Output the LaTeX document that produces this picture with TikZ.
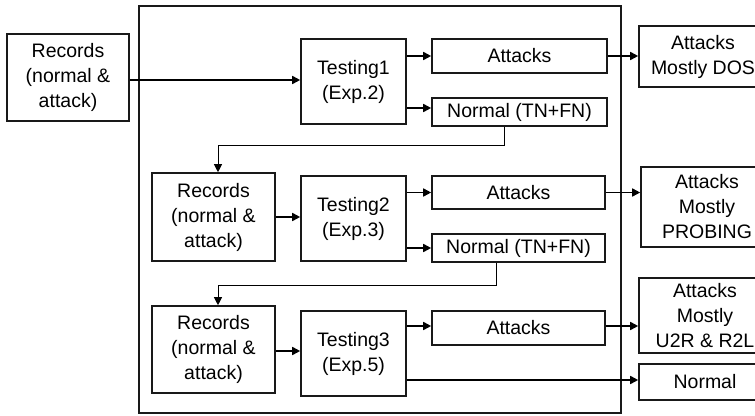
\documentclass[tikz,border=0pt]{standalone}
\usepackage{fontspec}
\setmainfont{Liberation Sans}
\usetikzlibrary{arrows.meta,calc}
\begin{document}
\begin{tikzpicture}[x=1pt,y=-1pt,
  box/.style={draw=black!90,line width=1.6pt,inner sep=0pt,align=center,
    font=\fontsize{19.5}{25}\selectfont},
  arr/.style={line width=1.6pt,-{Triangle[length=8pt,width=8pt]}},
  fb/.style={line width=0.9pt,-{Triangle[length=8pt,width=8pt]}},
  frm/.style={draw=black!90,line width=1.6pt,inner sep=0pt}]
\useasboundingbox (0,0) rectangle (755,415);
\clip (0,0) rectangle (755,415);
\node[frm,minimum width=482pt,minimum height=407pt] (frame) at (380,209.5) {};
% column 1
\node[box,minimum width=122pt,minimum height=87pt] (rec1) at (68,77.5) {Records\\(normal \&\\attack)};
\node[box,minimum width=123pt,minimum height=88pt] (rec2) at (213.5,217) {Records\\(normal \&\\attack)};
\node[box,minimum width=123pt,minimum height=87pt] (rec3) at (213.5,349.5) {Records\\(normal \&\\attack)};
% testing
\node[box,minimum width=105pt,minimum height=85pt] (t1) at (353.5,81.5) {Testing1\\(Exp.2)};
\node[box,minimum width=105pt,minimum height=85pt] (t2) at (353.5,218.5) {Testing2\\(Exp.3)};
\node[box,minimum width=105pt,minimum height=85pt] (t3) at (353.5,353.5) {Testing3\\(Exp.5)};
% attacks / normal
\node[box,minimum width=175pt,minimum height=34pt] (a1) at (519.5,56) {Attacks};
\node[box,minimum width=175pt,minimum height=28pt] (n1) at (519.5,112) {Normal (TN+FN)};
\node[box,minimum width=173pt,minimum height=33pt] (a2) at (518.5,192.5) {Attacks};
\node[box,minimum width=173pt,minimum height=28pt] (n2) at (518.5,248) {Normal (TN+FN)};
\node[box,minimum width=173pt,minimum height=34pt] (a3) at (518.5,328) {Attacks};
% right outputs
\node[box,minimum width=128pt,minimum height=61pt] (r1) at (703,56.5) {Attacks\\Mostly DOS};
\node[box,minimum width=132pt,minimum height=80pt] (r2) at (707,207) {Attacks\\Mostly\\PROBING};
\node[box,minimum width=132pt,minimum height=75pt] (r3) at (705,315.5) {Attacks\\Mostly\\U2R \& R2L};
\node[box,minimum width=132pt,minimum height=36pt] (rn) at (705,382) {Normal};
% connectors
\draw[arr] (rec1.east |- 0,80) -- (t1.west |- 0,80);
\draw[arr] (a1.west -| t1.east) -- (a1.west);
\draw[arr] ($(n1.west -| t1.east)+(0,-4)$) -- ($(n1.west)+(0,-4)$);
\draw[arr] (a1.east) -- (a1.east -| r1.west);
\draw[fb] ($(n1.south)+(-15.5,0)$) -- ++(0,19) -| ($(rec2.north)+(4.5,0)$);
\draw[arr] (rec2.east) -- (rec2.east -| t2.west);
\draw[arr] (a2.west -| t2.east) -- (a2.west);
\draw[arr] (n2.west -| t2.east) -- (n2.west);
\draw[arr] (a2.east) -- (a2.east -| r2.west);
\draw[fb] ($(n2.south)+(-22.5,0)$) -- ++(0,23) -| ($(rec3.north)+(4.5,0)$);
\draw[arr] (rec3.east |- 0,351) -- (t3.west |- 0,351);
\draw[arr] (t3.east |- 0,326) -- (a3.west |- 0,326);
\draw[arr] (a3.east |- 0,326) -- (r3.west |- 0,326);
\draw[arr] (t3.east |- 0,380) -- (rn.west |- 0,380);
\end{tikzpicture}
\end{document}
